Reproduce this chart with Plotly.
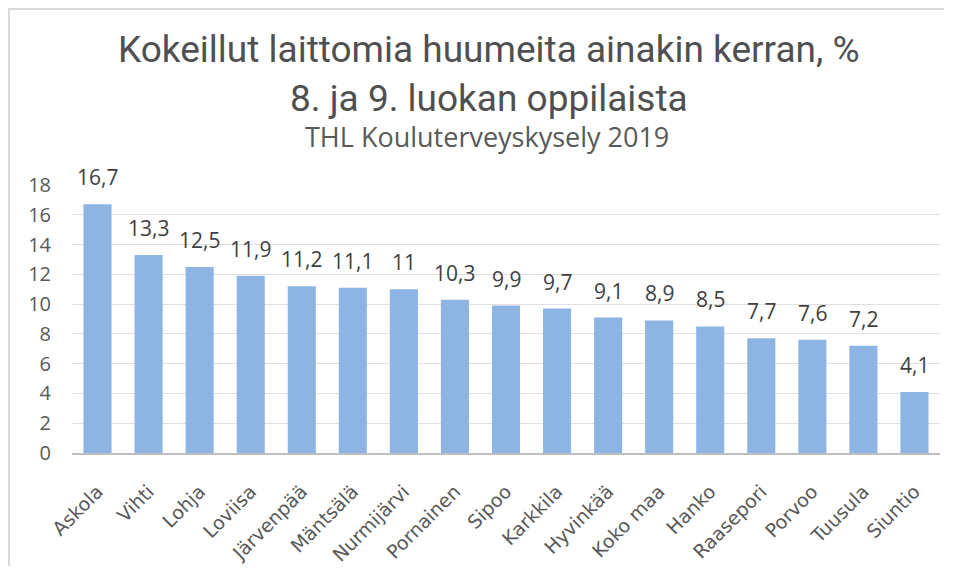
import plotly.graph_objects as go

kunnat = ["Askola", "Vihti", "Lohja", "Loviisa", "Järvenpää", "Mäntsälä", "Nurmijärvi",
          "Pornainen", "Sipoo", "Karkkila", "Hyvinkää", "Koko maa", "Hanko", "Raasepori",
          "Porvoo", "Tuusula", "Siuntio"]
osuus = [16.7, 13.3, 12.5, 11.9, 11.2, 11.1, 11.0, 10.3, 9.9, 9.7, 9.1, 8.9, 8.5, 7.7, 7.6, 7.2, 4.1]
y_ticks = [0, 2, 4, 6, 8, 10, 12, 14, 16, 18]

def fmt(v):
    return ("%g" % v).replace(".", ",")

labels = [fmt(v) for v in osuus]

# page has an 8px body margin
OFF = 8
W, H = 938, 558
L, R, T, B = 64, 6, 177, 113
pw, ph = W - L - R, H - T - B

def px(sx):
    return (sx - OFF - L) / pw

def py(sy):
    return (H - B - (sy - OFF)) / ph

fig = go.Figure(go.Bar(
    x=kunnat, y=osuus,
    marker=dict(color="#8db4e2", line=dict(width=0)),
))

label_ann = [
    dict(x=k, y=v, text=t, xref="x", yref="y", showarrow=False,
         xanchor="center", yanchor="bottom", yshift=11,
         font=dict(family="Open Sans", size=21, color="#404040"))
    for k, v, t in zip(kunnat, osuus, labels)
]

title_font = "Roboto, sans-serif"
fig.update_layout(
    width=W, height=H,
    margin=dict(l=L, r=R, t=T, b=B),
    paper_bgcolor="white", plot_bgcolor="white",
    bargap=0.45,
    showlegend=False,
    font=dict(family="Open Sans", color="#595959"),
    xaxis=dict(tickangle=-45, tickfont=dict(family="DejaVu Sans", size=19, color="#595959"),
               showline=True, linecolor="#bfbfbf", linewidth=2, ticks="",
               showgrid=False, automargin=False, ticklabelstandoff=18),
    yaxis=dict(range=[0, 18], tickvals=y_ticks, tickfont=dict(size=20, color="#595959"),
               showgrid=True, gridcolor="#e0e0e0", gridwidth=1, zeroline=False,
               showline=False, ticks="", ticklabelstandoff=20, automargin=False),
    annotations=[
        dict(text="Kokeillut laittomia huumeita ainakin kerran, %", x=px(489), y=py(50),
             xref="paper", yref="paper", showarrow=False, xanchor="center", yanchor="middle",
             font=dict(family=title_font, size=37, color="#505050")),
        dict(text="8. ja 9. luokan oppilaista", x=px(489), y=py(98),
             xref="paper", yref="paper", showarrow=False, xanchor="center", yanchor="middle",
             font=dict(family=title_font, size=37, color="#505050")),
        dict(text="THL Kouluterveyskysely 2019", x=px(487), y=py(137),
             xref="paper", yref="paper", showarrow=False, xanchor="center", yanchor="middle",
             font=dict(family="Open Sans", size=27, color="#595959")),
    ] + label_ann,
    shapes=[
        dict(type="line", xref="paper", yref="paper", x0=px(8), x1=px(944), y0=py(9), y1=py(9),
             line=dict(color="#d9d9d9", width=2)),
        dict(type="line", xref="paper", yref="paper", x0=px(9), x1=px(9), y0=py(8), y1=py(566),
             line=dict(color="#d9d9d9", width=2)),
    ],
)

fig.write_html("out.html", config={"displayModeBar": False})
